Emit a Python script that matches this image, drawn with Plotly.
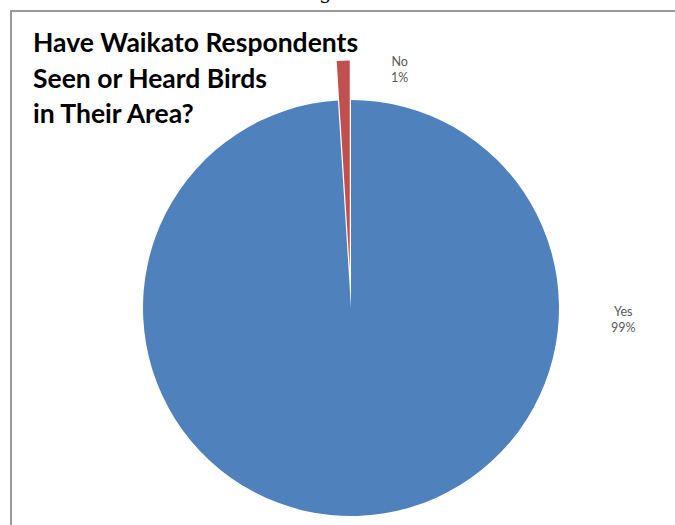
import math
import plotly.graph_objects as go

# Survey answers
answers = ["Yes", "No"]
shares = [99, 1]
slice_colors = ["#4F81BD", "#C0504D"]
title_lines = ["Have Waikato Respondents", "Seen or Heard Birds", "in Their Area?"]

W, H = 675, 525
CLEAR = "rgba(0,0,0,0)"


def px(x):
    return x / W


def py(y):
    return 1 - y / H


# pie geometry (pixels)
cx, cy, r = 351, 308, 208
pull = 0.19  # exploded "No" slice, as a fraction of the radius

# angle (clockwise from 12 o'clock) of the bisector of the exploded slice
total = sum(shares)
start = sum(shares[:1]) / total * 360
bisector = math.radians(start + shares[1] / total * 360 / 2)
dx = pull * r * math.sin(bisector)
dy = -pull * r * math.cos(bisector)


def domain(ox, oy):
    return dict(x=[px(ox - r), px(ox + r)], y=[py(oy + r), py(oy - r)])


fig = go.Figure()

# main pie: "Yes" drawn, the "No" wedge left empty
fig.add_trace(go.Pie(
    labels=answers, values=shares, sort=False, direction="clockwise",
    marker=dict(colors=[slice_colors[0], CLEAR], line=dict(width=0)),
    textinfo="none", hoverinfo="skip", showlegend=False,
    domain=domain(cx, cy),
))

# exploded "No" slice, shifted outward along its bisector
fig.add_trace(go.Pie(
    labels=answers, values=shares, sort=False, direction="clockwise",
    marker=dict(colors=[CLEAR, slice_colors[1]], line=dict(width=0)),
    textinfo="none", hoverinfo="skip", showlegend=False,
    domain=domain(cx + dx, cy + dy),
))

annotations = []

# chart title, one annotation per line
for i, line in enumerate(title_lines):
    annotations.append(dict(
        text=f"<b>{line}</b>", x=px(31), y=py(42 + i * 35.5),
        xref="paper", yref="paper", xanchor="left", yanchor="middle",
        showarrow=False, font=dict(family="Lato", size=26.5, color="#000000"),
    ))

# data labels
label_pos = {"Yes": (623, 319), "No": (399, 69)}
for name, val in zip(answers, shares):
    lx, ly = label_pos[name]
    annotations.append(dict(
        text=f"{name}<br>{round(val / total * 100)}%", x=px(lx), y=py(ly),
        xref="paper", yref="paper", xanchor="center", yanchor="middle",
        showarrow=False, align="center",
        font=dict(family="Lato", size=12.5, color="#595959"),
    ))

# tail of the caption line above the chart frame
annotations.append(dict(
    text="g", x=px(325), y=py(-8), xref="paper", yref="paper",
    xanchor="center", yanchor="middle", showarrow=False,
    font=dict(family="DejaVu Serif", size=20, color="#000000"),
))

fig.update_layout(
    width=W, height=H,
    margin=dict(l=0, r=0, t=0, b=0),
    paper_bgcolor="#FFFFFF", plot_bgcolor="#FFFFFF",
    annotations=annotations,
    shapes=[dict(
        type="rect", xref="paper", yref="paper",
        x0=px(11), x1=1.2, y0=-0.2, y1=py(11),
        line=dict(color="#9A9A9A", width=2), fillcolor=CLEAR, layer="below",
    )],
)

fig.write_html("out.html")
